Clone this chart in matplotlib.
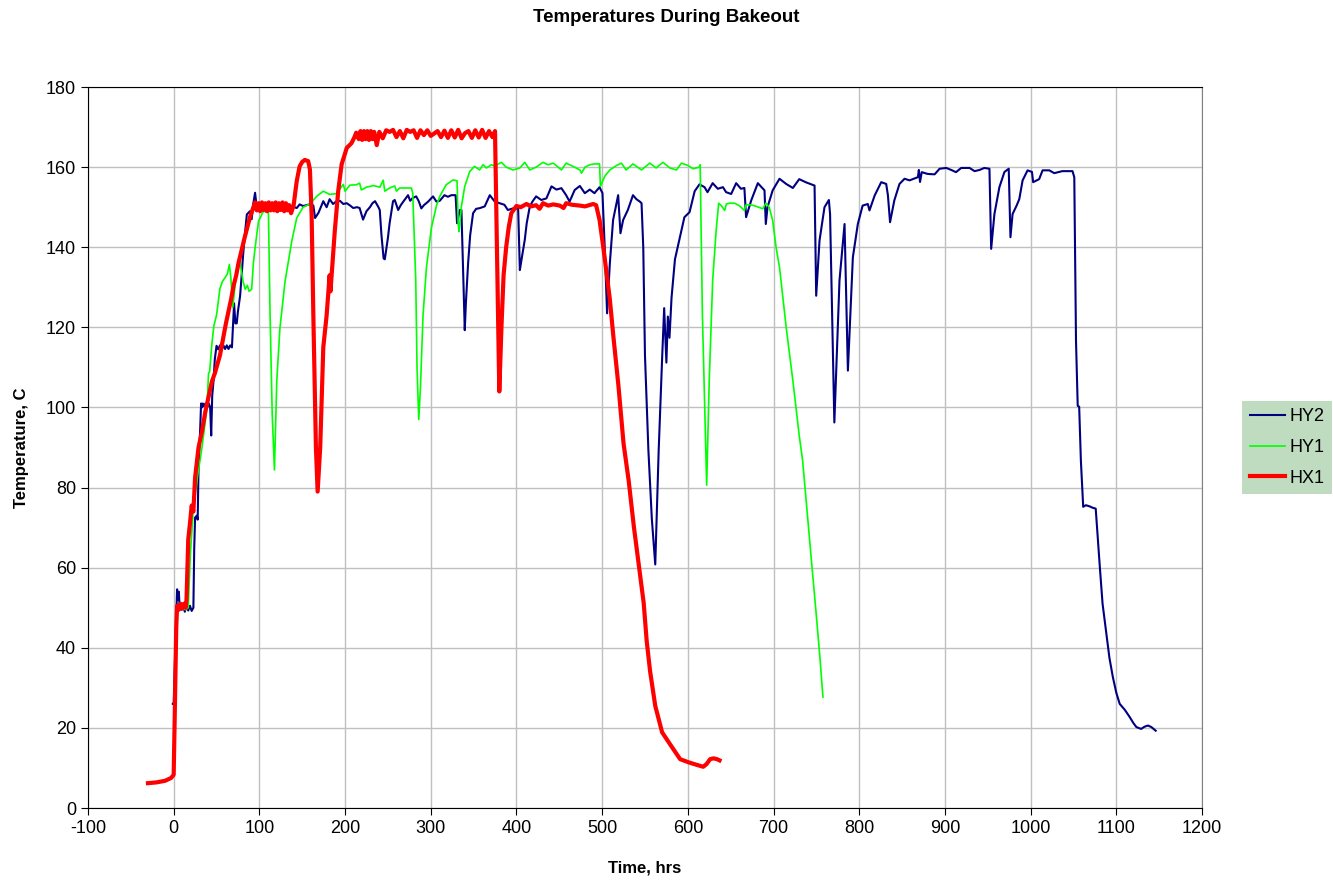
import matplotlib
matplotlib.use("Agg")
import matplotlib.pyplot as plt

plt.rcParams['font.family'] = ['Liberation Sans', 'DejaVu Sans']
plt.rcParams['axes.unicode_minus'] = False

# HY2 (navy)
hy2_t = [-1, 0, 2, 4, 5, 6, 7, 9, 11, 13, 15, 17, 19, 21, 23, 24, 25, 27, 28, 29, 31, 32, 33, 34, 35, 37, 39, 41, 42.6,
         43.8, 45, 46.5, 48, 50, 52, 54, 56, 58, 60, 62, 64, 66, 68, 70.5, 72, 73.6, 75, 77.5, 79, 81, 83, 85.4, 89, 91,
         93, 95, 97, 101, 108, 116, 124, 132, 138, 143.6, 147, 151, 155, 160, 163, 165, 169, 174.6, 178.5, 182, 186,
         190, 194, 198, 202, 206, 209.5, 214, 217, 221, 225, 229, 232, 235, 239, 240.5, 242.5, 245, 246.4, 250, 252,
         256, 258, 262, 265, 268, 273.5, 276, 279, 283, 286, 289, 292, 297, 302.7, 306.6, 310.5, 316, 320, 324, 329,
         330.7, 333.9, 335.8, 337, 339.7, 341, 343.6, 346, 349.4, 353, 357, 363, 368.9, 374.7, 380.5, 386, 390, 396,
         402, 404, 406, 409.7, 412, 415.6, 419, 423, 429, 435, 440.9, 446.7, 452.5, 458, 462, 468, 474, 479.8, 485.6,
         491, 497, 500.4, 503, 505.8, 509, 512.8, 518.7, 521.4, 524.5, 530, 536, 540, 544, 546, 548, 550, 554, 558,
         562, 566, 570, 572.4, 575, 576.7, 578.6, 581, 585, 591, 596, 602, 608, 613.6, 619.5, 623, 629, 635, 641,
         644.7, 650.6, 656.4, 662, 666, 668, 674, 681.7, 689.5, 691, 693, 699, 707, 714.8, 722.6, 730, 738, 747.9,
         749.8, 753.7, 759.5, 764.6, 766, 771, 777, 782.9, 786.8, 792.6, 798.4, 804, 810, 812, 818, 825.7, 831.5,
         833.5, 836, 841, 847, 852.9, 858.8, 868.5, 869.6, 871, 873, 880, 888, 893.8, 901.6, 907.4, 913, 919, 928.8,
         934.6, 940.5, 946, 952, 954, 957.8, 963.6, 969.5, 974.5, 976.5, 979, 983.7, 986.8, 990.7, 996.5, 1001.6,
         1003, 1010, 1014, 1021.8, 1027.6, 1037, 1048.9, 1051, 1053, 1055, 1056.7, 1058.7, 1061.4, 1064.5, 1069,
         1072, 1076, 1080.8, 1084, 1088.5, 1092, 1096, 1100, 1104, 1110, 1115.7, 1120, 1123.5, 1129, 1133, 1137,
         1141, 1146]
hy2_v = [26, 26, 40, 54.6, 52, 54, 50, 49.5, 50.5, 49, 50.5, 49.3, 50.5, 49.2, 50, 65, 72.5, 73, 72, 84.5, 95, 101, 100,
         101, 100.3, 101, 100, 101, 100, 93, 103, 106.6, 112, 115.4, 114.5, 115.5, 114.5, 115.5, 114.6, 115.5, 114.6,
         115.5, 115, 126, 121, 121, 124, 127.8, 132, 138, 143, 148.2, 149, 147, 151, 153.6, 149.8, 151, 150.5, 150.8,
         150.4, 150.8, 150.2, 149.8, 150.7, 150.3, 150.5, 150.8, 150.4, 147.3, 148.6, 151.5, 150, 152, 150.8, 151.5,
         151.6, 150.8, 151, 150.4, 149.8, 150, 149.8, 146.9, 149, 150, 151, 151.5, 150, 149.3, 143, 137.2, 137, 142.3,
         146, 151.5, 151.8, 149.3, 150.5, 151.4, 153, 151.6, 152.3, 152.7, 151.5, 149.7, 150.5, 151.4, 152.7, 151.4,
         151.6, 153, 152.6, 153, 153, 146, 149.3, 149.3, 140, 119.3, 126, 136, 143, 148.5, 149.6, 149.75, 150.2, 153,
         151.4, 151, 150.6, 149.3, 149.7, 149.7, 134.3, 137, 141.8, 146, 150.2, 151.5, 152.7, 151.8, 152.2, 155.2,
         154.4, 154.75, 153, 151.4, 154.3, 155.3, 153.5, 154.4, 153.5, 155, 153.5, 140, 123.5, 136, 146.8, 153, 143.5,
         146.8, 149.3, 153, 152, 151.4, 151, 140, 113, 89.3, 72.2, 60.8, 89.3, 112.2, 124.8, 111.2, 122.7, 117.4,
         127.4, 137, 142.7, 147.5, 148.75, 154, 155.7, 155, 153.75, 156, 154.6, 155, 153.75, 153.3, 156, 154.6, 154.8,
         147.5, 151.7, 156, 154.2, 145.8, 150, 154.2, 157.1, 155.8, 154.8, 157, 156.2, 155.4, 127.9, 141.7, 150,
         151.8, 148.3, 96.25, 131.7, 145.8, 109.2, 137.5, 145.8, 150.4, 150.8, 149.2, 152.9, 156.25, 155.8, 153,
         146.25, 151.7, 155.8, 157.1, 156.7, 157.5, 159.3, 156.3, 158.75, 158.3, 158.2, 159.6, 159.8, 159.3, 158.75,
         159.8, 159.8, 159, 159.3, 159.8, 159.6, 139.6, 148.3, 155, 158.8, 159.6, 142.5, 148.3, 150.4, 152, 156.7,
         159.2, 158.8, 156.25, 157, 159.2, 159.2, 158.5, 159, 159, 157.5, 116.7, 100.4, 100.2, 86.7, 75.2, 75.6,
         75.3, 75, 74.75, 60.2, 51, 43.5, 37.5, 32.7, 28.8, 26, 24.5, 22.7, 21.2, 20.2, 19.75, 20.3, 20.6, 20.2, 19.3]

# HY1 (green)
hy1_t = [1, 3, 8, 14, 17, 19.4, 23, 28, 33, 36, 38.8, 40.7, 42, 44.6, 47, 50, 54, 57, 60, 62.8, 65, 66.7, 69, 71.7,
         74.4, 76.7, 79, 81, 83.5, 86, 88, 91, 93, 95, 99, 104.8, 110.6, 112.5, 115, 117.6, 120.3, 124, 130, 137.8,
         143.6, 151, 159, 167, 174.6, 182, 190, 198, 200, 205.7, 213, 217, 219, 225, 233, 240.6, 244.5, 246.4, 252,
         258, 260, 263.8, 271.6, 277.4, 279, 282.5, 284, 286, 288, 291, 295, 300.7, 306.6, 310.5, 318, 326, 330.7,
         332, 333, 335.8, 339.7, 345.5, 351, 357, 361, 365, 370.8, 374.7, 382.5, 388, 396, 404, 409.7, 415.6, 423,
         431, 437, 443, 452.5, 458, 466, 474, 476, 480, 485.6, 491, 497, 498, 503, 509, 516.7, 522.5, 528, 536, 546,
         555.6, 563, 571, 579, 586.7, 592.5, 600.3, 606, 613.6, 614.4, 617, 622, 625, 629, 633, 636, 639, 643, 645,
         648.6, 654.5, 660, 666, 668, 674, 680, 687.5, 691, 695, 699, 703, 707, 714.8, 722.6, 730, 734, 740, 745,
         750, 754, 757.7]
hy1_v = [30, 49, 50, 49.5, 50, 63, 75, 83, 90, 95, 100, 108.5, 109, 115.9, 120.5, 123, 129.7, 131.5, 132.4, 133.4,
         135.7, 132.4, 125, 130.6, 135.7, 137, 134, 131.5, 129.5, 130.5, 129, 129.5, 136, 139.8, 146.5, 149, 148.6,
         123.2, 98.2, 84.4, 106.5, 119.8, 131.5, 141.5, 147.3, 150, 150.8, 152.75, 154, 153.2, 153.4, 155.7, 154,
         155.5, 155.6, 156, 154.3, 155, 155.4, 155, 156.75, 154, 154.8, 155.3, 154, 154.8, 154.8, 154.8, 153.5, 131.8,
         110, 97, 105, 123, 135, 144.8, 150.3, 152.7, 155.6, 156.8, 156.6, 146, 143.9, 150.2, 155.2, 158.9, 160.2,
         159.3, 160.6, 159.8, 160.6, 160.3, 161.2, 160, 159.3, 159.8, 161.2, 159.3, 160, 161.2, 160.6, 161, 159.3,
         161, 160.2, 159.3, 158.5, 160, 160.6, 160.8, 160.8, 155.2, 157.7, 159.3, 160.4, 161, 159.3, 160.8, 159.3, 161,
         159.8, 161.2, 159.8, 159.3, 161, 160.4, 159.6, 160, 160.6, 123.3, 80.6, 106.7, 131.7, 144, 151, 150.4, 149.2,
         150.8, 151, 151, 150.4, 149.2, 150.6, 150.6, 150.2, 149.6, 151, 150, 146.7, 140, 135, 120, 106.7, 93, 86.7,
         72, 60, 48, 38, 27.7]

# HX1 (red)
hx1_t = [-30, -20, -10, -3, 0, 1, 3, 4, 6, 8, 10, 12, 14, 15, 17, 19, 21, 23, 25, 29, 33, 37, 41, 44.6, 48, 50, 54,
         58, 61, 64, 67, 70, 73, 75.6, 79, 82, 86, 89, 93, 95, 97, 99, 101, 103, 105, 107, 109, 111, 113, 115, 117,
         119, 121, 123, 125, 127, 129, 131, 133, 135, 137, 140, 143.6, 147, 150, 153, 157, 159, 161, 163, 166, 168,
         171, 174.6, 178.5, 182, 183, 185, 188, 192, 196, 202, 207.6, 211, 213, 216, 218, 220, 222, 224, 226, 228,
         230, 232, 234, 237, 240, 244, 248, 252, 256, 260, 264, 268, 272, 276, 280, 284, 288, 292, 296, 300, 304,
         308, 312, 316, 320, 324, 328, 332, 336, 340, 344, 348, 352, 356, 360, 364, 368, 372, 375, 378, 380, 382.5,
         385, 388, 391, 394, 400, 405, 411.7, 417, 423, 427, 431, 437, 443, 450.6, 455, 458, 465, 474, 480, 489.5,
         493, 497, 502, 509, 513, 519, 525, 531, 537, 542.7, 548.5, 552, 556, 562, 570, 579, 591, 601, 610, 618,
         622, 626, 630, 634, 637]
hx1_v = [6.2, 6.4, 6.8, 7.5, 8.3, 20, 45, 50.5, 49.5, 51, 49.8, 51, 50, 52, 67, 71, 75.5, 74, 82.5, 90, 94, 99, 103,
         106.5, 108.5, 110, 113, 117.5, 121, 124, 127, 130.5, 133, 136, 139, 141.7, 145, 147.5, 150, 151.2, 149.2,
         151, 149, 151.2, 149.3, 151, 149, 151.2, 149.2, 151, 149.2, 151.2, 149, 151, 149.3, 151.2, 149, 151, 149.2,
         150.5, 148.5, 150.5, 156.5, 160.2, 161.3, 161.8, 161.5, 159.4, 148, 123, 90, 79, 90, 115, 123, 133, 129, 135,
         144, 154, 160.7, 164.8, 166, 167.5, 168.6, 167, 169, 166.8, 169, 167, 169, 166.8, 169, 167, 168.8, 165.5,
         168.8, 167.2, 169.2, 168.8, 169.3, 167.5, 169, 167.2, 169.3, 168.8, 169.2, 167.3, 169.2, 168, 169.2, 167.8,
         168.4, 169, 167.5, 169.1, 167.3, 169.2, 167.4, 169.3, 167.2, 168.5, 169, 167.3, 169.2, 167.4, 169.3, 167.3,
         169, 167.5, 169, 130, 104, 120, 133, 140, 145, 148.5, 150.3, 150, 150.8, 150.2, 150.5, 149.6, 151, 150.4,
         150.7, 150.4, 149.8, 151, 150.6, 150.4, 150.2, 150.8, 150.5, 146.8, 139, 127, 118, 105.5, 91, 81.7, 70.3,
         60.8, 51.2, 41.7, 34.1, 25.5, 18.9, 16, 12.2, 11.4, 10.8, 10.3, 11, 12.2, 12.4, 12.2, 11.9]

fig = plt.figure(figsize=(13.33, 8.8), dpi=100)
ax = fig.add_axes([0.066, 0.0818, 0.8357, 0.8193])

ax.plot(hy2_t, hy2_v, color='#000080', lw=1.5, label='HY2')
ax.plot(hy1_t, hy1_v, color='#00ff00', lw=1.2, label='HY1')
ax.plot(hx1_t, hx1_v, color='#ff0000', lw=3, label='HX1')

ax.set_xlim(-100, 1200)
ax.set_ylim(0, 180)
ax.set_xticks(range(-100, 1201, 100))
ax.set_yticks(range(0, 181, 20))
ax.grid(True, color='#c0c0c0', lw=1)
ax.set_axisbelow(True)
ax.tick_params(direction='out', length=5, labelsize=13, color='black')
for s in ['left', 'bottom', 'top']:
    ax.spines[s].set_color('black')
ax.spines['right'].set_color('#808080')

ax.set_xlabel('Time, hrs', fontsize=12, fontweight='bold', labelpad=17)
ax.set_ylabel('Temperature, C', fontsize=12, fontweight='bold', labelpad=12)
fig.suptitle('Temperatures During Bakeout', fontsize=13.5, fontweight='bold', y=0.99)

leg = fig.legend(loc='center left', bbox_to_anchor=(0.932, 0.4915), fontsize=13,
                 frameon=True, fancybox=False, framealpha=1, handlelength=1.95,
                 handletextpad=0.25, borderpad=0.4, labelspacing=0.75, borderaxespad=0)
leg.get_frame().set_facecolor('#c0dcc0')
leg.get_frame().set_edgecolor('none')

fig.savefig('out.png', dpi=100)
